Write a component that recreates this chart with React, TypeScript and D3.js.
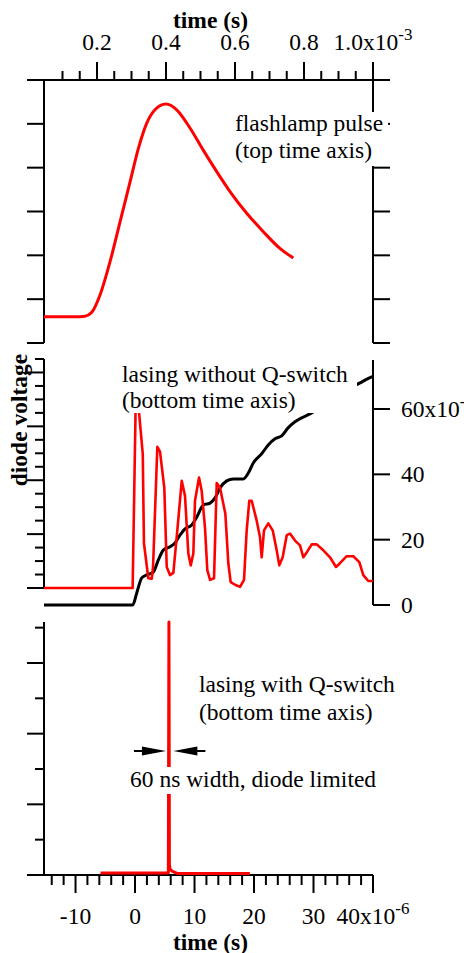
import React from 'react';
import * as d3 from 'd3';

const W = 464, H = 953;
const FONT = "'Liberation Serif', 'Times New Roman', serif";
const FS = 23.5;

// ---- top panel: flashlamp pulse (time in units of 1e-3 s) ----
const flashT = [0.0464, 0.151, 0.165, 0.185, 0.209, 0.238, 0.267, 0.296, 0.32, 0.344, 0.368, 0.4, 0.431, 0.47, 0.508, 0.547, 0.586, 0.634, 0.682, 0.73, 0.769];
const flashV = [0.6, 0.6, 0.61, 0.7, 1.1, 1.86, 2.77, 3.68, 4.44, 5.01, 5.32, 5.45, 5.32, 4.9, 4.4, 3.91, 3.45, 2.96, 2.54, 2.16, 1.94];

// ---- middle panel: lasing without Q-switch (time in 1e-6 s) ----
const freeT = [-15.3, -0.4, 0.1, 0.6, 1.3, 1.5, 2.24, 2.81, 3.03, 3.75, 4.2, 4.92, 5.33, 5.88, 6.44, 7.11, 7.85, 8.4, 8.96, 9.36, 9.8, 10.08, 10.76, 11.21, 11.76, 12.15, 12.61, 13.28, 13.73, 14.29, 15.18, 15.68, 16.08, 16.81, 17.65, 18.32, 18.77, 19.21, 19.61, 20.45, 21.01, 21.29, 21.68, 22.4, 23.14, 23.81, 24.25, 24.82, 25.5, 26.05, 26.89, 27.73, 28.29, 28.86, 29.7, 30.54, 31.65, 32.77, 33.78, 34.45, 35.58, 36.69, 37.7, 38.37, 39.21, 40];
const freeV = [0, 0, 3.35, 3.35, 2.49, 0.83, 0.18, 0.17, 0.39, 2.62, 2.53, 1.86, 0.39, 0.24, 0.28, 1.07, 1.99, 1.71, 0.64, 0.42, 0.64, 1.62, 2.05, 1.8, 1.12, 0.33, 0.15, 0.18, 1.95, 1.86, 1.38, 0.46, 0.11, 0.06, 0.02, 0.15, 1.07, 1.62, 1.62, 1.25, 0.94, 0.57, 1.07, 1.2, 1.07, 0.7, 0.42, 0.57, 0.98, 1.01, 0.88, 0.79, 0.57, 0.66, 0.81, 0.81, 0.7, 0.57, 0.39, 0.46, 0.59, 0.59, 0.48, 0.24, 0.13, 0.13];

// integrated signal (right axis, x1e-3)
const intT = [-15.3, -0.39, 0.29, 1.13, 1.97, 3.08, 3.92, 4.76, 5.88, 6.72, 7.56, 8.4, 9.53, 10.37, 11.48, 12.61, 13.45, 14.29, 15.41, 16.52, 18.2, 19.04, 19.88, 21.29, 22.39, 23.53, 24.65, 25.76, 26.89, 28.02, 29.41, 31.09, 32.77, 34.45, 36.13, 37.82, 38.82, 40];
const intV = [0, 0, 3.7, 8.3, 9.2, 10.1, 13.8, 16.8, 17.8, 19.0, 21.4, 23.3, 24.5, 26.9, 30.6, 31.2, 32.8, 35.8, 38.0, 38.6, 38.6, 40.4, 43.5, 46.3, 49.0, 50.9, 51.8, 54.3, 56.1, 57.3, 58.5, 60.3, 62.2, 64.3, 66.5, 68.0, 69.0, 70.0];

// ---- bottom panel: lasing with Q-switch ----
const qT = [-5.8, 0, 5.6, 5.7, 5.78, 5.9, 6.3, 7.2, 19.3];
const qV = [0.03, 0.03, 0.03, 3.58, 0.15, 0.08, 0.05, 0.02, 0.02];

// tick labels
const topTickLabels = ['0.2', '0.4', '0.6', '0.8', '1.0x10'];
const bottomTickLabels = ['-10', '0', '10', '20', '30', '40x10'];
const rightTickLabels = ['0', '20', '40', '60x10'];

const arrowTips = [5.2, 6.45];

export default function App() {
  const L = 44, R = 373;
  const xTop = d3.scaleLinear().domain([0.0464, 1.0]).range([L, R]);
  const xB = d3.scaleLinear().domain([-15.3, 40]).range([L, R]);

  const yTop = d3.scaleLinear().domain([0, 6]).range([343, 80]);
  const yMidL = d3.scaleLinear().domain([0, 4.25]).range([588, 359]);
  const yMidR = d3.scaleLinear().domain([0, 75]).range([605, 360]);
  const yBot = d3.scaleLinear().domain([0, 3.58]).range([875, 622]);

  const flashLine = d3.line<number>().x((_, i) => xTop(flashT[i])).y(d => yTop(d)).curve(d3.curveMonotoneX);
  const freeLine = d3.line<number>().x((_, i) => xB(freeT[i])).y(d => yMidL(d));
  const intLine = d3.line<number>().x((_, i) => xB(intT[i])).y(d => yMidR(d)).curve(d3.curveMonotoneX);
  const qLine = d3.line<number>().x((_, i) => xB(qT[i])).y(d => yBot(d));

  const axisStroke = 2;

  const topTicks = d3.range(2, 21).map(i => ({ v: i * 0.05, major: i % 4 === 0 }));
  const topMajors = [0.2, 0.4, 0.6, 0.8, 1.0];
  const botTicks = d3.range(-7, 21).map(i => ({ v: i * 2, major: (i * 2) % 10 === 0 }));
  const botMajors = [-10, 0, 10, 20, 30, 40];
  const topLeftTicks = d3.range(0, 7);
  const midLeftTicks = d3.range(0, 18).map(i => ({ v: i * 0.25, major: i % 4 === 0 }));
  const botLeftTicks = d3.range(0, 8).map(i => ({ v: i * 0.5, major: i % 2 === 0 }));
  const rightTicks = [0, 20, 40, 60];

  const arrowY = 751;
  const tipL = xB(arrowTips[0]);
  const tipR = xB(arrowTips[1]);

  const sup = (main: string, s: string | null) => (
    <>
      <tspan>{main}</tspan>
      {s ? <tspan dy={-10} fontSize={17}>{s}</tspan> : null}
    </>
  );

  return (
    <svg width={W} height={H} style={{ position: 'absolute', left: 0, top: 0, background: '#fff' }} fontFamily={FONT}>
      <rect x={0} y={0} width={W} height={H} fill="#fff" />

      {/* ===== TOP PANEL ===== */}
      <line x1={L} x2={R} y1={80} y2={80} stroke="#000" strokeWidth={axisStroke} />
      {topTicks.map(t => (
        <line key={'tt' + t.v} x1={xTop(t.v)} x2={xTop(t.v)} y1={80} y2={t.major ? 62 : 71} stroke="#000" strokeWidth={axisStroke} />
      ))}
      {topMajors.map((v, i) => (
        <text key={'tl' + v} x={xTop(v)} y={50} fontSize={FS} textAnchor="middle">
          {sup(topTickLabels[i], i === topMajors.length - 1 ? '-3' : null)}
        </text>
      ))}
      <text x={(L + R) / 2 + 2} y={28} fontSize={FS} fontWeight="bold" textAnchor="middle">time (s)</text>

      <line x1={L} x2={L} y1={yTop(0)} y2={yTop(6)} stroke="#000" strokeWidth={axisStroke} />
      <line x1={R} x2={R} y1={yTop(0)} y2={yTop(6)} stroke="#000" strokeWidth={axisStroke} />
      {topLeftTicks.map(v => (
        <g key={'tlt' + v}>
          <line x1={L - 17} x2={L} y1={yTop(v)} y2={yTop(v)} stroke="#000" strokeWidth={axisStroke} />
          <line x1={R} x2={R + 17} y1={yTop(v)} y2={yTop(v)} stroke="#000" strokeWidth={axisStroke} />
        </g>
      ))}
      <path d={flashLine(flashV) || ''} fill="none" stroke="#ff0000" strokeWidth={3} />

      <rect x={233} y={112} width={155} height={54} fill="#fff" />
      <text x={235} y={131} fontSize={FS}>flashlamp pulse</text>
      <text x={235} y={158} fontSize={FS}>(top time axis)</text>

      {/* ===== MIDDLE PANEL ===== */}
      <line x1={L} x2={L} y1={yMidL(0)} y2={yMidL(4.25)} stroke="#000" strokeWidth={axisStroke} />
      {midLeftTicks.map(t => (
        <line key={'mlt' + t.v} x1={t.major ? L - 17 : L - 9} x2={L} y1={yMidL(t.v)} y2={yMidL(t.v)} stroke="#000" strokeWidth={axisStroke} />
      ))}
      <line x1={R} x2={R} y1={yMidR(0)} y2={yMidR(75)} stroke="#000" strokeWidth={axisStroke} />
      {rightTicks.map((v, i) => (
        <g key={'rt' + v}>
          <line x1={R} x2={R + 17} y1={yMidR(v)} y2={yMidR(v)} stroke="#000" strokeWidth={axisStroke} />
          <text x={401} y={yMidR(v) + 8} fontSize={FS} textAnchor="start">
            {sup(rightTickLabels[i], i === rightTicks.length - 1 ? '-3' : null)}
          </text>
        </g>
      ))}
      <path d={intLine(intV) || ''} fill="none" stroke="#000" strokeWidth={3} />
      <path d={freeLine(freeV) || ''} fill="none" stroke="#ff0000" strokeWidth={2.6} strokeLinejoin="round" />

      <rect x={118} y={361} width={239} height={52} fill="#fff" />
      <text x={122} y={382} fontSize={FS}>lasing without Q-switch</text>
      <text x={122} y={408} fontSize={FS}>(bottom time axis)</text>

      <text transform={`translate(27,${420}) rotate(-90)`} fontSize={FS} fontWeight="bold" textAnchor="middle">diode voltage</text>

      {/* ===== BOTTOM PANEL ===== */}
      <line x1={L} x2={L} y1={yBot(0)} y2={yBot(3.58)} stroke="#000" strokeWidth={axisStroke} />
      {botLeftTicks.map(t => (
        <line key={'blt' + t.v} x1={t.major ? L - 17 : L - 9} x2={L} y1={yBot(t.v)} y2={yBot(t.v)} stroke="#000" strokeWidth={axisStroke} />
      ))}
      <line x1={L} x2={R} y1={875} y2={875} stroke="#000" strokeWidth={axisStroke} />
      {botTicks.map(t => (
        <line key={'bt' + t.v} x1={xB(t.v)} x2={xB(t.v)} y1={875} y2={t.major ? 893 : 885} stroke="#000" strokeWidth={axisStroke} />
      ))}
      {botMajors.map((v, i) => (
        <text key={'bl' + v} x={xB(v)} y={924} fontSize={FS} textAnchor="middle">
          {sup(bottomTickLabels[i], i === botMajors.length - 1 ? '-6' : null)}
        </text>
      ))}
      <text x={(L + R) / 2 + 2} y={950} fontSize={FS} fontWeight="bold" textAnchor="middle">time (s)</text>

      <path d={qLine(qV) || ''} fill="none" stroke="#ff0000" strokeWidth={3} strokeLinejoin="round" />

      <text x={199} y={692} fontSize={FS}>lasing with Q-switch</text>
      <text x={199} y={720} fontSize={FS}>(bottom time axis)</text>

      {/* arrows */}
      <line x1={tipL - 32} x2={tipL - 20} y1={arrowY} y2={arrowY} stroke="#000" strokeWidth={2} />
      <polygon points={`${tipL},${arrowY} ${tipL - 24},${arrowY - 4.5} ${tipL - 24},${arrowY + 4.5}`} fill="#000" />
      <line x1={tipR + 20} x2={tipR + 32} y1={arrowY} y2={arrowY} stroke="#000" strokeWidth={2} />
      <polygon points={`${tipR},${arrowY} ${tipR + 24},${arrowY - 4.5} ${tipR + 24},${arrowY + 4.5}`} fill="#000" />

      <rect x={128} y={767} width={253} height={27} fill="#fff" />
      <text x={130} y={787} fontSize={FS}>60 ns width, diode limited</text>
    </svg>
  );
}
